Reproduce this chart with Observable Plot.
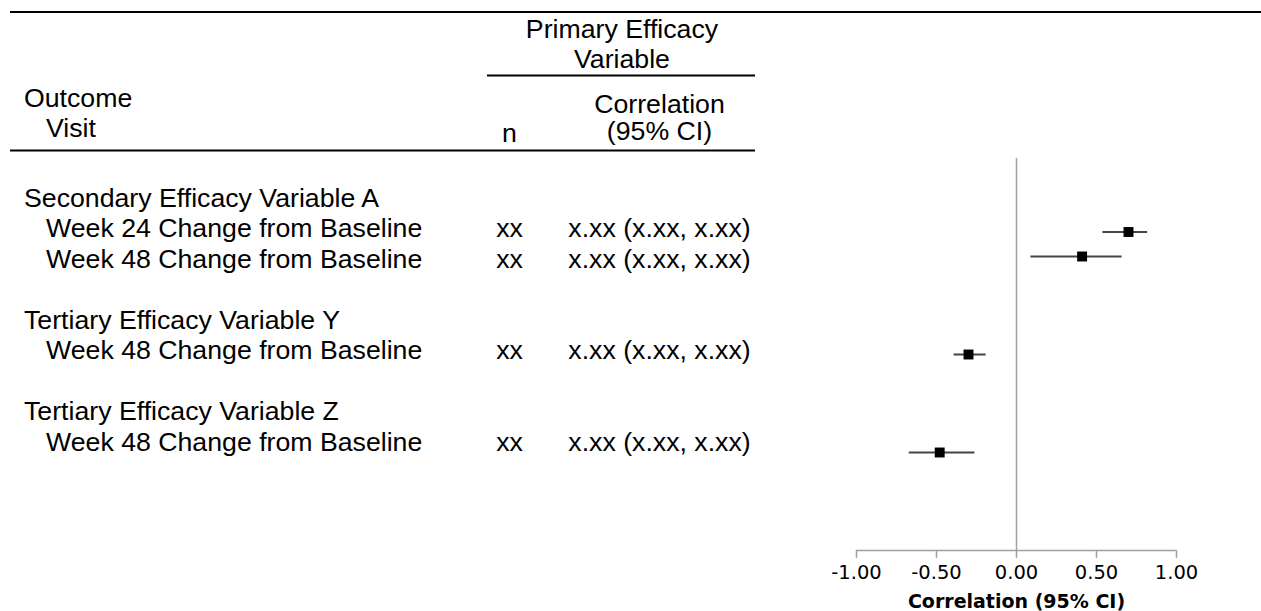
<!DOCTYPE html>
<html><head><meta charset="utf-8">
<script src="https://cdn.jsdelivr.net/npm/d3@7"></script>
<script src="https://cdn.jsdelivr.net/npm/@observablehq/plot@0.6"></script>
<style>
html,body{margin:0;padding:0;background:#fff;}
#wrap{position:relative;width:1261px;height:611px;overflow:hidden;background:#fff;}
#wrap > svg{position:absolute;left:0;top:0;}
</style></head><body><div id="wrap"></div>
<script>
// ---------- data ----------
const rowLabels = [
  "Secondary Efficacy Variable A",
  "Week 24 Change from Baseline",
  "Week 48 Change from Baseline",
  "",
  "Tertiary Efficacy Variable Y",
  "Week 48 Change from Baseline",
  "",
  "Tertiary Efficacy Variable Z",
  "Week 48 Change from Baseline"
];
const rowIsVisit = [false, true, true, false, false, true, false, false, true];
const nValues   = ["", "xx", "xx", "", "", "xx", "", "", "xx"];
const corrText  = ["", "x.xx (x.xx, x.xx)", "x.xx (x.xx, x.xx)", "", "", "x.xx (x.xx, x.xx)", "", "", "x.xx (x.xx, x.xx)"];

const spanHeader  = "Primary Efficacy\nVariable";
const outcomeHead = ["Outcome", "Visit"];
const nHead       = "n";
const corrHead    = "Correlation\n(95% CI)";

const forestNames = ["Secondary A, Week 24", "Secondary A, Week 48", "Tertiary Y, Week 48", "Tertiary Z, Week 48"];
const estimate = [0.70, 0.41, -0.30, -0.48];
const lower    = [0.54, 0.09, -0.39, -0.67];
const upper    = [0.82, 0.66, -0.19, -0.26];
const forestSlot = [1, 2, 6, 10];   // ordinal slot of each estimate in the forest panel
const xTicks = [-1, -0.5, 0, 0.5, 1];
const xLabel = "Correlation (95% CI)";

// ---------- table layout (text positions, px) ----------
const L = {
  labelX: 23.5, visitX: 45.5, nX: 509, corrX: 659, spanX: 621.5,
  body0: 206, step: 30.5,
  spanBase: 67, outcomeBase: [106.5, 136.5], corrBase: 139.5, nBase: 141,
  topRule: 11.5, spanRule: 75, headRule: 150,
  ruleLeft: 10, ruleRight: 1261, spanLeft: 487, spanRight: 755
};
const tableFont = "'Liberation Sans', Arial, sans-serif";
const fs = 26.7;

const body = rowLabels.map((label, i) => ({label, visit: rowIsVisit[i], n: nValues[i], corr: corrText[i], i}));

const table = Plot.plot({
  width: 1261, height: 611, margin: 0,
  x: {type: "identity", axis: null},
  y: {type: "identity", axis: null},
  style: {background: "none", fontFamily: tableFont, color: "black"},
  marks: [
    Plot.ruleY([L.topRule], {x1: L.ruleLeft, x2: L.ruleRight, stroke: "black", strokeWidth: 2}),
    Plot.ruleY([L.spanRule], {x1: L.spanLeft, x2: L.spanRight, stroke: "black", strokeWidth: 2}),
    Plot.ruleY([L.headRule], {x1: L.ruleLeft, x2: L.spanRight, stroke: "black", strokeWidth: 2}),
    Plot.text([spanHeader], {x: L.spanX, y: L.spanBase, text: d => d, textAnchor: "middle", lineAnchor: "bottom", lineHeight: 1.12, fontSize: fs, fill: "black"}),
    Plot.text(outcomeHead, {x: (d, i) => i === 0 ? L.labelX : L.visitX, y: (d, i) => L.outcomeBase[i], text: d => d, textAnchor: "start", lineAnchor: "bottom", fontSize: fs, fill: "black"}),
    Plot.text([nHead], {x: L.nX, y: L.nBase, text: d => d, textAnchor: "middle", lineAnchor: "bottom", fontSize: fs, fill: "black"}),
    Plot.text([corrHead], {x: L.corrX, y: L.corrBase, text: d => d, textAnchor: "middle", lineAnchor: "bottom", lineHeight: 1.03, fontSize: fs, fill: "black"}),
    Plot.text(body, {x: d => d.visit ? L.visitX : L.labelX, y: d => L.body0 + d.i * L.step, text: "label", textAnchor: "start", lineAnchor: "bottom", fontSize: fs, fill: "black"}),
    Plot.text(body, {x: L.nX, y: d => L.body0 + d.i * L.step, text: "n", textAnchor: "middle", lineAnchor: "bottom", fontSize: fs, fill: "black"}),
    Plot.text(body, {x: L.corrX, y: d => L.body0 + d.i * L.step, text: "corr", textAnchor: "middle", lineAnchor: "bottom", fontSize: fs, fill: "black"})
  ]
});

const forest = forestNames.map((name, i) => ({name, est: estimate[i], lo: lower[i], hi: upper[i], slot: forestSlot[i]}));
const axisGray = "#a0a0a0";

const chart = Plot.plot({
  width: 1261, height: 611,
  marginLeft: 856, marginRight: 85, marginTop: 158, marginBottom: 61,
  x: {domain: [-1, 1]},
  y: {domain: [-2, 14], reverse: true, axis: null},
  style: {background: "none", fontFamily: "'DejaVu Sans', Verdana, sans-serif", color: "black"},
  marks: [
    Plot.ruleX([0], {stroke: axisGray, strokeWidth: 1.5}),
    Plot.ruleY([14], {stroke: axisGray, strokeWidth: 1.5}),
    Plot.axisX({ticks: xTicks, tickFormat: d => d.toFixed(2), tickSize: 8, tickPadding: 7, fontSize: 19.5, stroke: axisGray, strokeWidth: 1.5, label: null, fill: "black"}),
    Plot.ruleY(forest, {x1: "lo", x2: "hi", y: "slot", stroke: "#444", strokeWidth: 1.8}),
    Plot.dot(forest, {x: "est", y: "slot", symbol: "square", r: 5.6, fill: "black", stroke: "none"}),
    Plot.text([xLabel], {frameAnchor: "bottom", text: d => d, dy: 57, lineAnchor: "bottom", fontWeight: "bold", fontSize: 19, fill: "black"})
  ]
});

const wrap = document.getElementById("wrap");
wrap.appendChild(table);
wrap.appendChild(chart);
</script>
</body></html>
